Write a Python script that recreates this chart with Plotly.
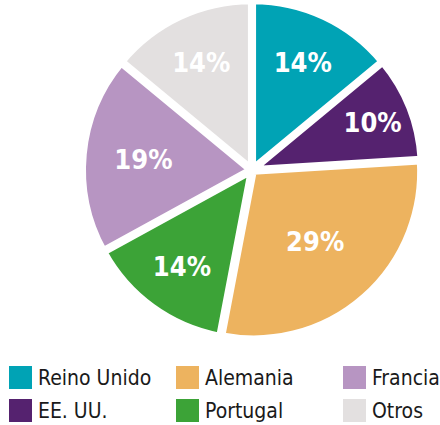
import plotly.graph_objects as go

categories = ["Reino Unido", "EE. UU.", "Alemania", "Portugal", "Francia", "Otros"]
values = [14, 10, 29, 14, 19, 14]
colors = ["#00A3B5", "#55226F", "#EDB35F", "#3CA337", "#B795C2", "#E3E0E0"]

# legend layout order (row-wise): rows of 3
legend_rows = [["Reino Unido", "Alemania", "Francia"], ["EE. UU.", "Portugal", "Otros"]]

W, H = 440, 425
fig = go.Figure()
fig.add_trace(go.Pie(
    labels=categories,
    values=values,
    marker=dict(colors=colors, line=dict(color="white", width=6)),
    sort=False,
    direction="clockwise",
    rotation=0,
    pull=[0.015] * len(values),
    textinfo="percent",
    texttemplate="%{value}%",
    textposition="inside",
    insidetextorientation="horizontal",
    textfont=dict(family="DejaVu Sans Condensed", size=27, color="white", weight="bold"),
    showlegend=False,
    hoverinfo="label+percent",
    domain=dict(x=[(252 - 169) / W, (252 + 169) / W], y=[(255 - 169) / H, (255 + 169) / H]),
))

col_x = [9, 176, 343]
row_y = [366, 399]
shapes = []
annotations = []
cmap = dict(zip(categories, colors))
for r, row in enumerate(legend_rows):
    for c, name in enumerate(row):
        x0 = col_x[c]
        y0 = row_y[r]
        shapes.append(dict(type="rect", xref="paper", yref="paper",
                           x0=x0 / W, x1=(x0 + 23) / W,
                           y0=1 - y0 / H, y1=1 - (y0 + 23) / H,
                           fillcolor=cmap[name], line=dict(width=0)))
        annotations.append(dict(text=name, xref="paper", yref="paper",
                                x=(x0 + 27) / W, y=1 - (y0 + 12) / H,
                                xanchor="left", yanchor="middle", showarrow=False,
                                font=dict(family="Liberation Sans Narrow, DejaVu Sans Condensed, sans-serif",
                                          size=21, color="#1a1a1a")))

fig.update_layout(
    width=W, height=H,
    margin=dict(l=0, r=0, t=0, b=0),
    paper_bgcolor="white",
    plot_bgcolor="white",
    shapes=shapes,
    annotations=annotations,
)

fig.write_html("out.html", config={"displayModeBar": False},
               post_script="document.body.style.margin='0';document.body.style.overflow='hidden';")
